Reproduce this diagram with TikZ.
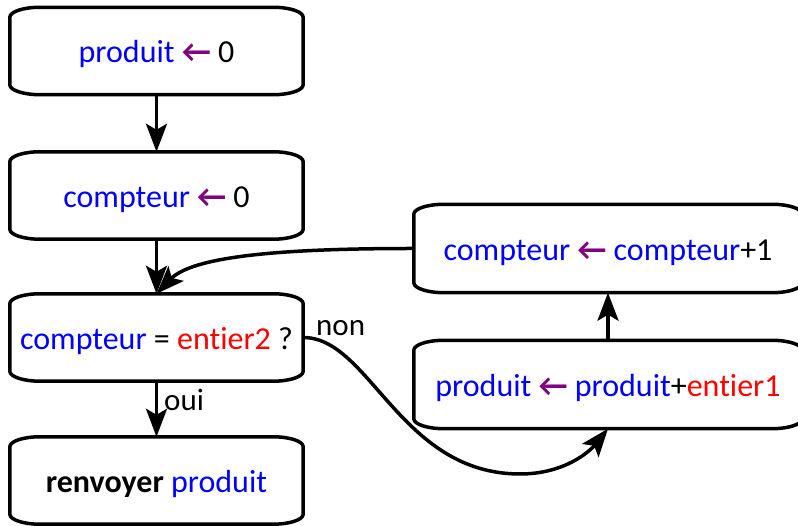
\documentclass[tikz,border=0pt]{standalone}
\usepackage{fontspec}
\setmainfont{Carlito}[Ligatures=NoCommon]
\usetikzlibrary{arrows.meta,calc}
\definecolor{vblue}{RGB}{0,0,255}
\definecolor{vred}{RGB}{255,0,0}
\definecolor{vpurple}{RGB}{128,0,128}
\newcommand\lar{\textcolor{vpurple}{\bfseries ←}}
\newcommand\vb[1]{\textcolor{vblue}{#1}}
\newcommand\vr[1]{\textcolor{vred}{#1}}
\newcommand\ellbox[1]{%
  \draw[boxline] ([yshift=-10pt]#1.north west)
    arc[start angle=180,end angle=90,x radius=30pt,y radius=10pt]
    -- ([xshift=-30pt]#1.north east)
    arc[start angle=90,end angle=0,x radius=30pt,y radius=10pt]
    -- ([yshift=10pt]#1.south east)
    arc[start angle=0,end angle=-90,x radius=30pt,y radius=10pt]
    -- ([xshift=30pt]#1.south west)
    arc[start angle=270,end angle=180,x radius=30pt,y radius=10pt]
    -- cycle;}
\begin{document}
\begin{tikzpicture}[x=1pt,y=1pt,
  box/.style={minimum width=293pt, minimum height=87pt, inner sep=0pt,
    text height=30pt, text depth=6pt,
    font=\fontsize{32}{38}\selectfont},
  wbox/.style={box, minimum width=388pt, minimum height=88pt},
  boxline/.style={line width=3.5pt, line join=round},
  conn/.style={line width=3.5pt, -{Stealth[length=28pt,width=21pt,inset=6pt]}},
  lbl/.style={font=\fontsize{31}{37}\selectfont, inner sep=0pt, anchor=base west}]
\useasboundingbox (0,0) rectangle (798,526);
\node[box] (b1) at (156.5,475) {\vb{produit} \lar{} 0};
\node[box] (b2) at (156.5,330.5) {\vb{compteur} \lar{} 0};
\node[box] (b3) at (156.5,188.5) {\vb{compteur} = \vr{entier2} ?};
\node[box] (b4) at (156.5,45.5) {\textbf{renvoyer} \vb{produit}};
\node[wbox] (b5) at (608,277.5) {\vb{compteur} \lar{} \vb{compteur}+1};
\node[wbox] (b6) at (608,141.5) {\vb{produit} \lar{} \vb{produit}+\vr{entier1}};
\ellbox{b1}\ellbox{b2}\ellbox{b3}\ellbox{b4}\ellbox{b5}\ellbox{b6}
\draw[conn] (b1) -- (b2);
\draw[conn] (b2) -- (b3);
\draw[conn] (b3) -- (b4);
\draw[conn] (b6) -- (b5);
\draw[conn] (b5.west) .. controls (300,277.5) and (195,272) .. (b3.north);
\draw[conn] (b3.east) .. controls (370,188.5) and (400,52) .. (520,52)
  .. controls (565,52) and (590,75) .. (b6.south);
\node[lbl] (oui) at (164,115) {oui};
\node[lbl] (non) at (316,190) {non};
\end{tikzpicture}
\end{document}
